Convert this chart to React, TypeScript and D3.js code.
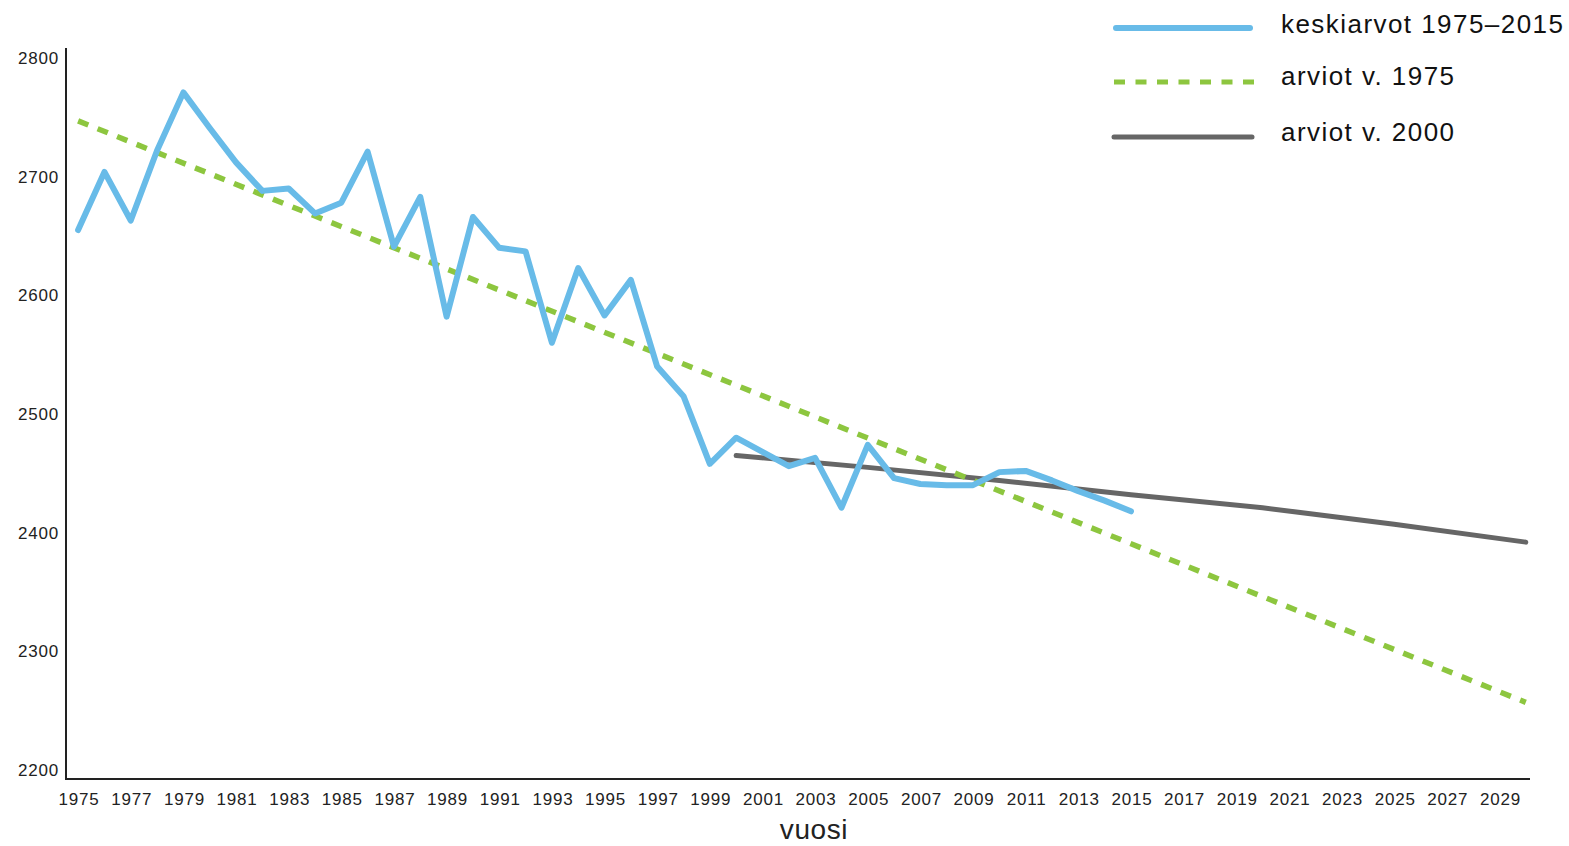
import React from "react";
import * as d3 from "d3";

const years: number[] = d3.range(1975, 2016);
const averages: number[] = [
  2655, 2704, 2663, 2722, 2771, 2741, 2712, 2688, 2690, 2669,
  2678, 2721, 2641, 2683, 2582, 2666, 2640, 2637, 2560, 2623,
  2583, 2613, 2540, 2515, 2458, 2480, 2468, 2456, 2463, 2421,
  2474, 2446, 2441, 2440, 2440, 2451, 2452, 2444, 2435, 2427,
  2418,
];
const est1975Years: number[] = [1975, 2030];
const est1975Values: number[] = [2747, 2257];
const est2000Years: number[] = [2000, 2005, 2010, 2015, 2020, 2025, 2030];
const est2000Values: number[] = [2465, 2455, 2444, 2432, 2421, 2407, 2392];

const yTicks: number[] = [2200, 2300, 2400, 2500, 2600, 2700, 2800];
const xTicks: number[] = d3.range(1975, 2030, 2);

const legendLabels: string[] = ["keskiarvot 1975–2015", "arviot v. 1975", "arviot v. 2000"];
const xTitle = "vuosi";

const BLUE = "#68bbe8";
const GREEN = "#8dc63f";
const GREY = "#666666";
const AXIS = "#222222";
const FONT = "'Liberation Sans', Arial, sans-serif";

export default function App() {
  const x = d3.scaleLinear().domain([1974.54, 2030.16]).range([66, 1530]);
  const y = d3.scaleLinear().domain([2192.4, 2808.4]).range([779, 48]);

  const line = d3
    .line<[number, number]>()
    .x((d) => x(d[0]))
    .y((d) => y(d[1]));

  const avgPts = years.map((yr, i) => [yr, averages[i]] as [number, number]);
  const e75Pts = est1975Years.map((yr, i) => [yr, est1975Values[i]] as [number, number]);
  const e00Pts = est2000Years.map((yr, i) => [yr, est2000Values[i]] as [number, number]);

  const legendY = [28, 82, 137];
  const legendTextY = [33, 85, 141];

  return (
    <svg
      width={1569}
      height={846}
      style={{ position: "absolute", left: 0, top: 0, background: "#fff" }}
    >
      <rect x={0} y={0} width={1569} height={846} fill="#fff" />
      {/* series */}
      <path
        d={line(e00Pts) || ""}
        fill="none"
        stroke={GREY}
        strokeWidth={5}
        strokeLinecap="round"
      />
      <path
        d={line(e75Pts) || ""}
        fill="none"
        stroke={GREEN}
        strokeWidth={5.5}
        strokeDasharray="11 10"
      />
      <path
        d={line(avgPts) || ""}
        fill="none"
        stroke={BLUE}
        strokeWidth={6}
        strokeLinejoin="round"
        strokeLinecap="round"
      />

      {/* axes */}
      <line x1={66} x2={66} y1={48} y2={780} stroke={AXIS} strokeWidth={2} />
      <line x1={65} x2={1530} y1={779} y2={779} stroke={AXIS} strokeWidth={2} />

      {yTicks.map((t) => (
        <text
          key={"y" + t}
          x={59}
          y={y(t)}
          dy="0.35em"
          textAnchor="end"
          fontFamily={FONT}
          fontSize={17}
          letterSpacing={0.8}
          fill="#222"
        >
          {t}
        </text>
      ))}
      {xTicks.map((t) => (
        <text
          key={"x" + t}
          x={x(t) + 1}
          y={805}
          textAnchor="middle"
          fontFamily={FONT}
          fontSize={17}
          letterSpacing={0.8}
          fill="#222"
        >
          {t}
        </text>
      ))}
      <text
        x={814}
        y={839}
        textAnchor="middle"
        fontFamily={FONT}
        fontSize={28}
        letterSpacing={0.6}
        fill="#222"
      >
        {xTitle}
      </text>

      {/* legend */}
      <line x1={1116} x2={1250} y1={legendY[0]} y2={legendY[0]} stroke={BLUE} strokeWidth={6} strokeLinecap="round" />
      <line x1={1114} x2={1256} y1={legendY[1]} y2={legendY[1]} stroke={GREEN} strokeWidth={5} strokeDasharray="11 10.5" />
      <line x1={1114} x2={1252} y1={legendY[2]} y2={legendY[2]} stroke={GREY} strokeWidth={5} strokeLinecap="round" />
      {legendLabels.map((l, i) => (
        <text
          key={l}
          x={1281}
          y={legendTextY[i]}
          fontFamily={FONT}
          fontSize={26}
          letterSpacing={1.45}
          fill="#111"
        >
          {l}
        </text>
      ))}
    </svg>
  );
}
